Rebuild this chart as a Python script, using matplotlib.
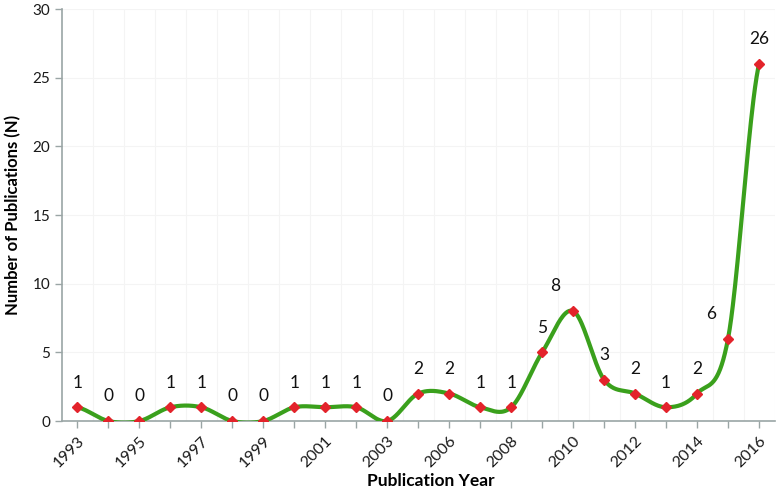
import numpy as np
import matplotlib
matplotlib.use("Agg")
import matplotlib.pyplot as plt

years = ["1993", "1994", "1995", "1996", "1997", "1998", "1999", "2000", "2001", "2002",
         "2003", "2005", "2006", "2007", "2008", "2009", "2010", "2011", "2012", "2013",
         "2014", "2015", "2016"]
counts = [1, 0, 0, 1, 1, 0, 0, 1, 1, 1, 0, 2, 2, 1, 1, 5, 8, 3, 2, 1, 2, 6, 26]
yticks = [0, 5, 10, 15, 20, 25, 30]

# label horizontal nudges (points), styling only
label_dx = {"2010": -13, "2015": -12}

plt.rcParams['font.family'] = ['Lato', 'DejaVu Sans']

fig = plt.figure(figsize=(7.77, 4.92), dpi=100)
ax = fig.add_axes([0.0798, 0.1443, 0.9170, 0.8374])

x = np.arange(len(counts))
y = np.array(counts, dtype=float)

# Excel-like smoothed line (Catmull-Rom / cubic Hermite)
n = len(y)
m = np.zeros(n)
m[1:-1] = (y[2:] - y[:-2]) / 2.0
m[0] = (y[1] - y[0]) / 2.0
m[-1] = (y[-1] - y[-2]) / 2.0
xs, ys = [], []
for i in range(n - 1):
    t = np.linspace(0, 1, 40)
    h00 = 2 * t**3 - 3 * t**2 + 1
    h10 = t**3 - 2 * t**2 + t
    h01 = -2 * t**3 + 3 * t**2
    h11 = t**3 - t**2
    xs.append(x[i] + t)
    ys.append(h00 * y[i] + h10 * m[i] + h01 * y[i + 1] + h11 * m[i + 1])
xs = np.concatenate(xs)
ys = np.concatenate(ys)

ax.plot(xs, ys, color='#3aa01c', lw=3, solid_capstyle='round', zorder=3)
ax.plot(x, y, linestyle='none', marker='D', markersize=5, color='#e3232b',
        markeredgecolor='#e3232b', zorder=4)

for xi, yi, yr in zip(x, counts, years):
    ax.annotate(str(yi), (xi, yi), xytext=(label_dx.get(yr, 0), 12),
                textcoords='offset points', ha='center', va='bottom',
                fontsize=12.5, color='#111111')

ax.set_xlim(-0.5, len(counts) - 0.5)
ax.set_ylim(0, 30)
ax.set_yticks(yticks)
ax.set_xticks(x)
ax.set_xticklabels([yr if i % 2 == 0 else "" for i, yr in enumerate(years)],
                   rotation=45, ha='right', rotation_mode='anchor', fontsize=11.5)
ax.tick_params(axis='x', length=5, width=1, color='#9aa5a5', pad=4, labelcolor='#1a1a1a')
ax.tick_params(axis='y', length=5, width=1, color='#9aa5a5', labelsize=11, labelcolor='#1a1a1a')

# faint grid: horizontal at ticks, vertical at category boundaries
for yv in yticks[1:]:
    ax.axhline(yv, color='#f4f4f4', lw=0.8, zorder=0)
for xb in np.arange(-0.5, len(counts) + 0.5, 1.0)[1:]:
    ax.axvline(xb, color='#f4f4f4', lw=0.8, zorder=0)

for s in ['top', 'right']:
    ax.spines[s].set_visible(False)
for s in ['left', 'bottom']:
    ax.spines[s].set_color('#9aa5a5')
    ax.spines[s].set_linewidth(1.2)

ax.set_xlabel('Publication Year', fontsize=12.5, fontweight='bold')
ax.xaxis.set_label_coords(0.518, -0.125)
ax.set_ylabel('Number of Publications (N)', fontsize=12, fontweight='bold', labelpad=8)

fig.savefig('out.png', dpi=100)
